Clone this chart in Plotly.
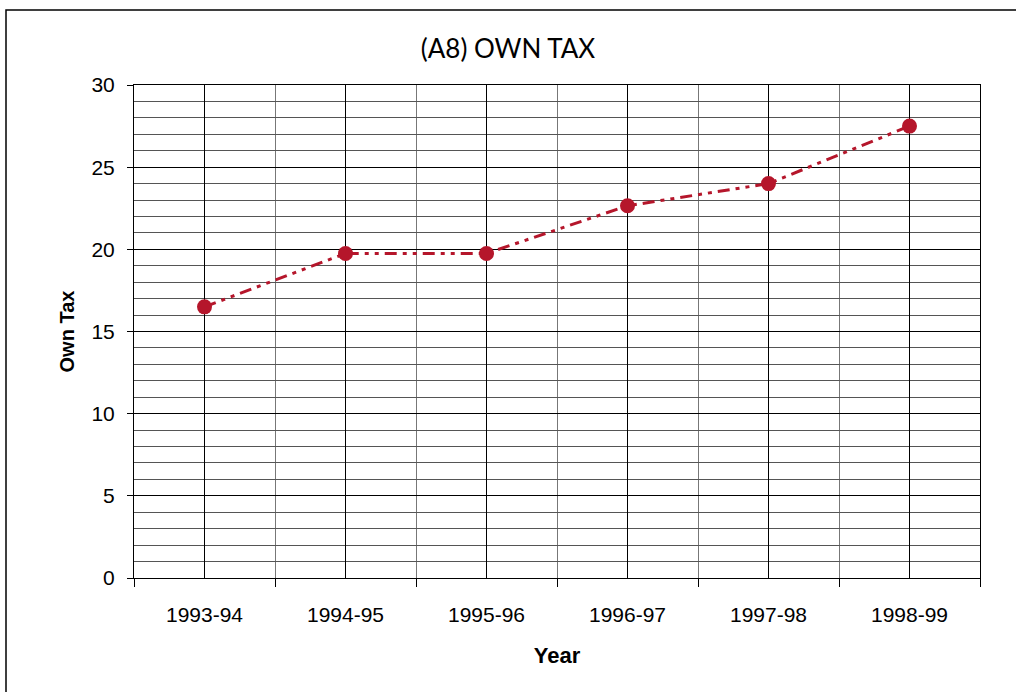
import plotly.graph_objects as go

years = ['1993-94', '1994-95', '1995-96', '1996-97', '1997-98', '1998-99']
own_tax = [16.5, 19.75, 19.75, 22.65, 24.0, 27.5]
y_ticks = [0, 5, 10, 15, 20, 25, 30]

red = '#B5162B'
arial = 'Liberation Sans, Arial'

fig = go.Figure(go.Scatter(
    x=list(range(len(years))),
    y=own_tax,
    mode='lines+markers',
    line=dict(color=red, width=3, dash='12px,6px,4px,6px,4px,6px'),
    marker=dict(color=red, size=15),
    showlegend=False,
))

fig.update_xaxes(
    range=[-0.5, len(years) - 0.5],
    tickvals=list(range(len(years))),
    ticktext=years,
    ticks='',
    ticklabelstandoff=18,
    showgrid=True, gridcolor='black', gridwidth=1,
    minor=dict(tick0=-0.5, dtick=1, ticks='outside', ticklen=8, tickcolor='black',
               showgrid=True, gridcolor='#777777', gridwidth=1),
    showline=True, linecolor='black', linewidth=1, mirror=True,
    zeroline=False,
    tickfont=dict(family=arial, size=21, color='black'),
    title=dict(text='<b>Year</b>', font=dict(family=arial, size=22, color='black'),
               standoff=22),
)
fig.update_yaxes(
    range=[0, 30],
    tickvals=y_ticks,
    ticks='outside', ticklen=6, tickcolor='black',
    ticklabelstandoff=8,
    showgrid=True, gridcolor='black', gridwidth=1,
    minor=dict(dtick=1, showgrid=True, gridcolor='#555555', gridwidth=1),
    showline=True, linecolor='black', linewidth=1, mirror=True,
    zeroline=False,
    tickfont=dict(family=arial, size=21, color='black'),
    title=dict(text='<b>Own Tax</b>', font=dict(family=arial, size=20, color='black'),
               standoff=11),
)

# outer frame round the chart
fig.add_shape(type='rect', xref='paper', yref='paper',
              x0=-0.1513, x1=1.2, y0=-0.4, y1=1.152,
              line=dict(color='black', width=1.5))

fig.update_layout(
    width=1016, height=692,
    margin=dict(l=134, r=36, t=85, b=114),
    paper_bgcolor='white', plot_bgcolor='white',
    title=dict(text='(A8) OWN TAX', x=0.5, xanchor='center', y=0.93, yanchor='middle',
               font=dict(family='Lato, Inter, sans-serif', size=26, color='black')),
)

fig.write_html('out.html', config={'displayModeBar': False},
               post_script="document.body.style.margin='0';")
